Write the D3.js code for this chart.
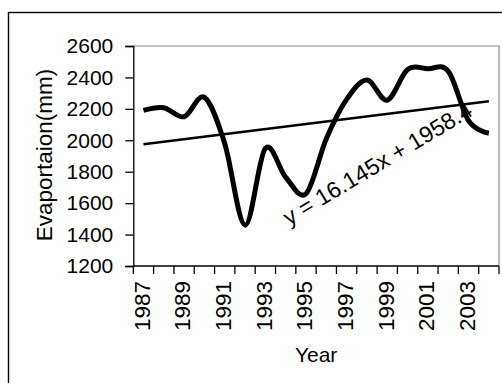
<!DOCTYPE html>
<html>
<head>
<meta charset="utf-8">
<script src="https://cdn.jsdelivr.net/npm/d3@7"></script>
<style>
  html, body { margin: 0; padding: 0; background: #fff; }
  svg { display: block; }
  text { font-family: "Liberation Sans", Arial, sans-serif; fill: #000; }
</style>
</head>
<body>
<svg id="chart" width="502" height="383"></svg>
<script>
// Annual evaporation, 1987-2004
const years = [1987, 1988, 1989, 1990, 1991, 1992, 1993, 1994, 1995,
               1996, 1997, 1998, 1999, 2000, 2001, 2002, 2003, 2004];
const evaporation = [2190, 2207, 2150, 2273, 1980, 1460, 1948, 1765, 1660,
                     2010, 2260, 2383, 2255, 2450, 2455, 2440, 2125, 2045];
const yTicks = [1200, 1400, 1600, 1800, 2000, 2200, 2400, 2600];
const xTickLabels = [1987, 1989, 1991, 1993, 1995, 1997, 1999, 2001, 2003];
// Linear trend, x = 1 .. n
const trendSlope = 16.145;
const trendIntercept = 1958.4;
const trendLabel = "y = 16.145x + 1958.4";

const svg = d3.select("#chart");
const W = 502, H = 383;
const plot = { left: 133.3, right: 499, top: 46, bottom: 266 };

svg.append("rect").attr("width", W).attr("height", H).attr("fill", "#fff");

// chart frame
svg.append("rect")
  .attr("x", 8.5).attr("y", 12.5).attr("width", 700).attr("height", 600)
  .attr("fill", "none").attr("stroke", "#000").attr("stroke-width", 1.4);

const x = d3.scaleBand().domain(years).range([plot.left, plot.right]).padding(0);
const y = d3.scaleLinear().domain([1200, 2600]).range([plot.bottom, plot.top]);
const cx = d => x(d) + x.bandwidth() / 2;

// plot area border (top/right)
svg.append("path")
  .attr("d", `M${plot.left},${plot.top}H${plot.right}V${plot.bottom}`)
  .attr("fill", "none").attr("stroke", "#8a8a8a").attr("stroke-width", 1.2);

// y axis
const yAxis = svg.append("g")
  .attr("transform", `translate(${plot.left},0)`)
  .call(d3.axisLeft(y).tickValues(yTicks).tickSize(8).tickPadding(12).tickFormat(d3.format("d")));
yAxis.select(".domain").attr("stroke", "#000").attr("stroke-width", 1.3);
yAxis.selectAll(".tick line").attr("stroke", "#000").attr("stroke-width", 1.3);
yAxis.selectAll(".tick text")
  .attr("font-size", 21).attr("font-family", "Liberation Sans, Arial, sans-serif");

// x axis: tick marks on category boundaries, labels every other year
const boundaries = years.map(d => x(d)).concat([plot.right]);
const xAxis = svg.append("g").attr("transform", `translate(0,${plot.bottom})`);
xAxis.append("line")
  .attr("x1", plot.left).attr("x2", plot.right)
  .attr("stroke", "#000").attr("stroke-width", 1.3);
xAxis.selectAll("line.tk").data(boundaries).join("line")
  .attr("class", "tk")
  .attr("x1", d => d).attr("x2", d => d).attr("y1", 0).attr("y2", 8)
  .attr("stroke", "#000").attr("stroke-width", 1.3);
xAxis.selectAll("text").data(xTickLabels).join("text")
  .attr("transform", d => `translate(${cx(d) - 1.5},15) rotate(-90)`)
  .attr("text-anchor", "end").attr("dy", "0.35em")
  .attr("font-size", 22.5)
  .text(d => d);

// axis titles
svg.append("text")
  .attr("transform", `translate(44,${(plot.top + plot.bottom) / 2 - 1}) rotate(-90)`)
  .attr("text-anchor", "middle").attr("dy", "0.35em")
  .attr("font-size", 22.5)
  .text("Evaportaion(mm)");
svg.append("text")
  .attr("x", (plot.left + plot.right) / 2).attr("y", 362)
  .attr("text-anchor", "middle")
  .attr("font-size", 21)
  .text("Year");

// trend line
const trendPts = [years[0], years[years.length - 1]].map(yr => {
  const i = years.indexOf(yr) + 1;
  return [cx(yr), y(trendSlope * i + trendIntercept)];
});
svg.append("path")
  .attr("d", d3.line()(trendPts))
  .attr("fill", "none").attr("stroke", "#000").attr("stroke-width", 2.5);

// smoothed series line
const line = d3.line()
  .x((d, i) => cx(years[i]))
  .y(d => y(d))
  .curve(d3.curveCardinal.tension(0));
svg.append("path")
  .attr("d", line(evaporation))
  .attr("fill", "none").attr("stroke", "#000").attr("stroke-width", 5)
  .attr("stroke-linejoin", "round").attr("stroke-linecap", "butt");

// trend equation
svg.append("text")
  .attr("transform", "translate(289,226) rotate(-31)")
  .attr("font-size", 23)
  .text(trendLabel);
</script>
</body>
</html>
